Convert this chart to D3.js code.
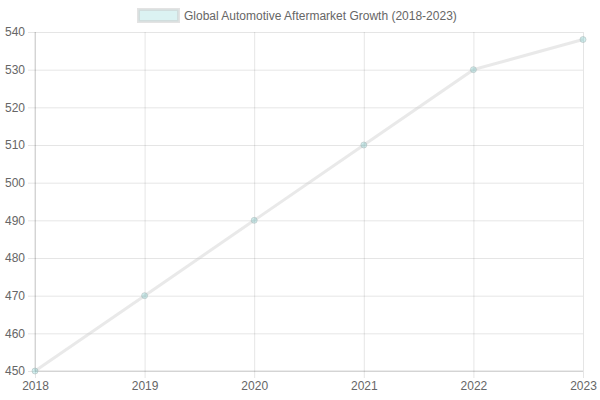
<!DOCTYPE html>
<html>
<head>
<meta charset="utf-8">
<script src="https://cdn.jsdelivr.net/npm/d3@7"></script>
<style>
  body { margin: 0; background: #fff; }
  svg text { font-family: "Liberation Sans", Arial, sans-serif; }
</style>
</head>
<body>
<svg width="600" height="400"></svg>
<script>
const years = ["2018", "2019", "2020", "2021", "2022", "2023"];
const marketSize = [450, 470, 490, 510, 530, 538];
const yTicks = [450, 460, 470, 480, 490, 500, 510, 520, 530, 540];
const seriesLabel = "Global Automotive Aftermarket Growth (2018-2023)";

const svg = d3.select("svg");
const margin = {left: 35, right: 17, top: 32, bottom: 29};
const width = 600, height = 400;

const xScale = d3.scalePoint()
    .domain(years)
    .range([margin.left, width - margin.right]);

const yScale = d3.scaleLinear()
    .domain([450, 540])
    .range([height - margin.bottom, margin.top]);

const gridColor = "rgba(0,0,0,0.1)";

// horizontal grid + y labels
const yAxis = svg.append("g")
    .attr("transform", `translate(${margin.left},0)`)
    .call(d3.axisLeft(yScale).tickValues(yTicks).tickSize(-(width - margin.left - margin.right)).tickSizeOuter(0).tickPadding(10));
yAxis.select(".domain").remove();
yAxis.selectAll(".tick line").attr("stroke", gridColor).attr("x1", -7);
yAxis.selectAll(".tick text").attr("fill", "#666").attr("font-size", 12);

// vertical grid + x labels
const xAxis = svg.append("g")
    .attr("transform", `translate(0,${height - margin.bottom})`)
    .call(d3.axisBottom(xScale).tickSize(-(height - margin.top - margin.bottom)).tickSizeOuter(0).tickPadding(10));
xAxis.select(".domain").remove();
xAxis.selectAll(".tick line").attr("stroke", gridColor).attr("y1", 7);
xAxis.selectAll(".tick text").attr("fill", "#666").attr("font-size", 12);

// axis borders slightly darker
svg.append("line")
    .attr("x1", margin.left).attr("x2", margin.left)
    .attr("y1", margin.top).attr("y2", height - margin.bottom)
    .attr("stroke", "rgba(0,0,0,0.15)");
svg.append("line")
    .attr("x1", margin.left).attr("x2", width - margin.right)
    .attr("y1", height - margin.bottom).attr("y2", height - margin.bottom)
    .attr("stroke", "rgba(0,0,0,0.15)");

const line = d3.line()
    .x((d, i) => xScale(years[i]))
    .y(d => yScale(d));

svg.append("path")
    .datum(marketSize)
    .attr("d", line)
    .attr("fill", "none")
    .attr("stroke", "rgba(200,200,200,0.4)")
    .attr("stroke-width", 3);

svg.selectAll("circle.pt")
    .data(marketSize)
    .enter().append("circle")
    .attr("class", "pt")
    .attr("cx", (d, i) => xScale(years[i]))
    .attr("cy", d => yScale(d))
    .attr("r", 3)
    .attr("fill", "rgba(75,192,192,0.25)")
    .attr("stroke", "rgba(170,180,180,0.5)")
    .attr("stroke-width", 1);

// legend
const legend = svg.append("g");
legend.append("rect")
    .attr("x", 138.5).attr("y", 9.5)
    .attr("width", 40).attr("height", 12)
    .attr("fill", "rgba(75,192,192,0.2)")
    .attr("stroke", "rgba(200,200,200,0.5)")
    .attr("stroke-width", 3);
legend.append("text")
    .attr("x", 184).attr("y", 20)
    .attr("fill", "#666")
    .attr("font-size", 12)
    .text(seriesLabel);
</script>
</body>
</html>
